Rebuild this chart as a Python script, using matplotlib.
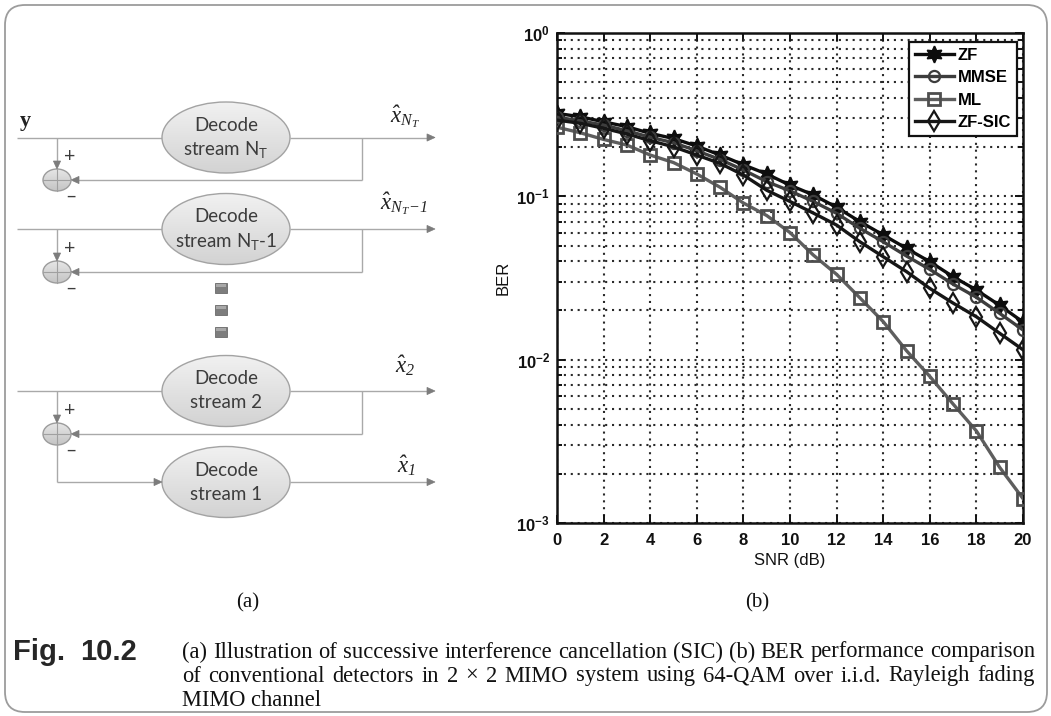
import numpy as np
import matplotlib
matplotlib.use("Agg")
import matplotlib.pyplot as plt
from matplotlib.patches import Ellipse, FancyBboxPatch, Rectangle, Polygon
from matplotlib.ticker import FixedLocator, FixedFormatter, LogLocator, NullFormatter

# ---------------------------------------------------------------- data
snr_db = list(range(0, 21))
ber_zf = [0.322, 0.307, 0.286, 0.267, 0.243, 0.226, 0.203, 0.179, 0.156, 0.137,
          0.117, 0.102, 0.0857, 0.070, 0.058, 0.048, 0.0398, 0.0322, 0.0267,
          0.0215, 0.0170]
ber_mmse = [0.305, 0.290, 0.273, 0.252, 0.230, 0.213, 0.190, 0.168, 0.145, 0.123,
            0.108, 0.093, 0.0787, 0.0637, 0.0527, 0.0431, 0.0357, 0.0290, 0.0241,
            0.0192, 0.0152]
ber_ml = [0.265, 0.245, 0.223, 0.206, 0.179, 0.161, 0.137, 0.1136, 0.0910, 0.0763,
          0.0600, 0.0437, 0.0333, 0.0239, 0.0171, 0.01135, 0.0079, 0.00535,
          0.00366, 0.00219, 0.00141]
ber_zfsic = [0.293, 0.280, 0.261, 0.241, 0.219, 0.201, 0.179, 0.159, 0.135, 0.109,
             0.093, 0.079, 0.0667, 0.0527, 0.0427, 0.0346, 0.0273, 0.0222, 0.0183,
             0.0145, 0.0115]
series_names = ["ZF", "MMSE", "ML", "ZF-SIC"]
x_ticks = list(range(0, 21, 2))
y_ticks = [1e-3, 1e-2, 1e-1, 1e0]
y_tick_labels = [r"$10^{-3}$", r"$10^{-2}$", r"$10^{-1}$", r"$10^{0}$"]

stream_labels = [r"stream N$_\mathregular{T}$", r"stream N$_\mathregular{T}$-1",
                 "stream 2", "stream 1"]
output_labels = [r"$\hat{x}_{N_T}$", r"$\hat{x}_{N_T\!-\!1}$", r"$\hat{x}_{2}$",
                 r"$\hat{x}_{1}$"]

caption_head = ["Fig.", "10.2"]
caption_lines = [
    "(a) Illustration of successive interference cancellation (SIC) (b) BER performance comparison",
    "of conventional detectors in 2 \u00d7 2 MIMO system using 64-QAM over i.i.d. Rayleigh fading",
    "MIMO channel",
]

# ---------------------------------------------------------------- style
plt.rcParams["font.family"] = ["Liberation Sans", "DejaVu Sans"]
plt.rcParams["font.weight"] = "bold"
plt.rcParams["mathtext.default"] = "regular"

W, H = 1051, 716
fig = plt.figure(figsize=(W / 100, H / 100), dpi=100)
fig.patch.set_facecolor("white")

# full-figure canvas in pixel units for the diagram, frame and caption
cv = fig.add_axes([0, 0, 1, 1], zorder=0)
cv.set_xlim(0, W)
cv.set_ylim(H, 0)
cv.axis("off")

LINE = "#a9a9a9"
HEAD = "#7c7c7c"


def head(x, y, direction, size=8, half=3.6):
    dx, dy = {"right": (1, 0), "left": (-1, 0), "down": (0, 1)}[direction]
    px, py = -dy, dx
    pts = [(x, y),
           (x - dx * size + px * half, y - dy * size + py * half),
           (x - dx * size - px * half, y - dy * size - py * half)]
    cv.add_patch(Polygon(pts, closed=True, fc=HEAD, ec=HEAD, lw=0.5, zorder=4))


def seg(xs, ys):
    cv.plot(xs, ys, color=LINE, lw=1.0, solid_capstyle="butt", zorder=2)


def grad_ellipse(cx, cy, w, h, top, bottom, edge):
    e = Ellipse((cx, cy), w, h, fc="none", ec=edge, lw=1.0, zorder=3)
    cv.add_patch(e)
    c0 = np.array(matplotlib.colors.to_rgb(top))
    c1 = np.array(matplotlib.colors.to_rgb(bottom))
    t = np.linspace(0, 1, 64)[:, None, None]
    img = c0 + (c1 - c0) * t
    img = np.repeat(img, 4, axis=1)
    im = cv.imshow(img, extent=(cx - w / 2, cx + w / 2, cy + h / 2, cy - h / 2),
                   origin="upper", aspect="auto", zorder=2.5, interpolation="bilinear")
    im.set_clip_path(e)


# ---------------------------------------------------------------- SIC diagram
row_y = [137.5, 229, 391, 482]
junction_y = [180, 272, 434]
ell_cx, ell_w, ell_h = 226, 128, 71
jx, jw, jh = 57, 28, 22
x_start, x_branch, x_tip = 17, 362, 435

cv.text(25, 121, "y", family="Liberation Serif", weight="bold", fontsize=16,
        ha="center", va="center", color="#222222")

for i, ry in enumerate(row_y):
    grad_ellipse(ell_cx, ry, ell_w, ell_h, "#f1f1f1", "#d3d3d3", "#a3a3a3")
    cv.text(ell_cx, ry - 12, "Decode", family="Lato", weight="normal", fontsize=13.5,
            ha="center", va="center", color="#3c3c3c", zorder=5)
    cv.text(ell_cx, ry + 12, stream_labels[i], family="Lato", weight="normal",
            fontsize=13.5, ha="center", va="center", color="#3c3c3c", zorder=5)
    # output line to the right
    seg([ell_cx + ell_w / 2, x_tip - 7], [ry, ry])
    head(x_tip, ry, "right")
    if i < 3:
        seg([x_start, ell_cx - ell_w / 2], [ry, ry])

output_pos = [(405, 117), (404, 204), (405, 366), (406, 466)]
for (ox, oy), lab in zip(output_pos, output_labels):
    cv.text(ox, oy, lab, family="Liberation Serif", style="italic", weight="normal",
            fontsize=16.5, ha="center", va="center", color="#222222")

for k, jy in enumerate(junction_y):
    ry = row_y[k] if k < 2 else row_y[2]
    # branch down from the input line into the summing node
    seg([jx, jx], [ry, jy - jh / 2 - 7])
    head(jx, jy - jh / 2, "down")
    # feedback of the decoded stream
    seg([x_branch, x_branch], [ry, jy])
    seg([x_branch, jx + jw / 2 + 7], [jy, jy])
    head(jx + jw / 2, jy, "left")
    grad_ellipse(jx, jy, jw, jh, "#e6e6e6", "#c4c4c4", "#9c9c9c")
    cv.plot([jx - jw / 2, jx + jw / 2], [jy, jy], color="#a0a0a0", lw=0.8, zorder=4)
    cv.plot([jx, jx], [jy - jh / 2, jy + jh / 2], color="#a0a0a0", lw=0.8, zorder=4)
    cv.text(70, jy - 23, "+", family="Lato", weight="normal", fontsize=14,
            ha="center", va="center", color="#3c3c3c")
    cv.text(71, jy + 16, "\u2013", family="Lato", weight="normal", fontsize=14,
            ha="center", va="center", color="#3c3c3c")

# last summing node feeds the final decoder
seg([jx, jx], [junction_y[2] + jh / 2, row_y[3]])
seg([jx, ell_cx - ell_w / 2 - 7], [row_y[3], row_y[3]])
head(ell_cx - ell_w / 2, row_y[3], "right")

# vertical ellipsis between the stages
for dy in (288, 310, 332):
    cv.add_patch(Rectangle((215, dy - 5), 12, 10, fc="#7d7d7d", ec="#6a6a6a",
                           lw=0.6, zorder=3))
    cv.add_patch(Rectangle((216, dy - 4.5), 10, 3, fc="#a8a8a8", ec="none", zorder=3.5))

# ---------------------------------------------------------------- BER plot
ax = fig.add_axes([557 / W, 1 - 523 / H, 466 / W, 490 / H], zorder=2)
ax.set_facecolor("white")

styles = [
    dict(color="#0d0d0d", marker=(6, 1, 0), ms=12, mfc="#0d0d0d", mec="#0d0d0d", mew=1.2),
    dict(color="#3d3d3d", marker="o", ms=8, mfc="none", mec="#3d3d3d", mew=1.6),
    dict(color="#5e5e5e", marker="s", ms=8.5, mfc="none", mec="#4e4e4e", mew=2.0),
    dict(color="#161616", marker="d", ms=10, mfc="none", mec="#161616", mew=1.6),
]
for vals, name, st in zip([ber_zf, ber_mmse, ber_ml, ber_zfsic], series_names, styles):
    ax.plot(snr_db, vals, lw=2.4, label=name, zorder=3, **st)

ax.set_yscale("log")
ax.set_xlim(0, 20)
ax.set_ylim(1e-3, 1)
ax.xaxis.set_major_locator(FixedLocator(x_ticks))
ax.yaxis.set_major_locator(FixedLocator(y_ticks))
ax.yaxis.set_major_formatter(FixedFormatter(y_tick_labels))
ax.yaxis.set_minor_locator(LogLocator(base=10, subs=np.arange(2, 10), numticks=20))
ax.yaxis.set_minor_formatter(NullFormatter())

dot = (0, (1, 2.3))
ax.grid(True, which="major", axis="both", linestyle=dot, color="#2a2a2a", lw=1.5)
ax.grid(True, which="minor", axis="y", linestyle=dot, color="#2a2a2a", lw=1.5)
ax.set_axisbelow(True)

ax.tick_params(which="both", direction="in", top=True, right=True, width=1.4,
               labelsize=12, colors="#111111")
ax.tick_params(which="major", length=6)
ax.tick_params(which="minor", length=3.5)
ax.tick_params(axis="x", pad=7)
ax.tick_params(axis="y", pad=5)
for sp in ax.spines.values():
    sp.set_linewidth(1.8)
    sp.set_color("#111111")

ax.set_xlabel("SNR (dB)", fontsize=12, labelpad=4, color="#111111")
ax.set_ylabel("BER", fontsize=12, labelpad=4, color="#111111")

leg = ax.legend(loc="upper right", bbox_to_anchor=(0.987, 0.982), borderaxespad=0,
                fancybox=False, framealpha=1, edgecolor="#111111", fontsize=12,
                handlelength=2.3, handletextpad=0.25, labelspacing=0.45,
                borderpad=0.35)
leg.get_frame().set_linewidth(1.6)

# ---------------------------------------------------------------- frame and caption
cv.add_patch(FancyBboxPatch((5, 5), 1042, 707, boxstyle="round,pad=0,rounding_size=20",
                            fc="none", ec="#9c9c9c", lw=1.3, zorder=1))

cv.text(248, 603, "(a)", family="Liberation Serif", weight="normal", fontsize=15,
        ha="center", va="center", color="#111111")
cv.text(757, 603, "(b)", family="Liberation Serif", weight="normal", fontsize=15,
        ha="center", va="center", color="#111111")

head_kw = dict(family="Liberation Sans", weight="bold", fontsize=21, va="center",
               color="#262626")
cv.text(13, 652, caption_head[0], ha="left", **head_kw)
cv.text(80, 652, caption_head[1], ha="left", **head_kw)

renderer = fig.canvas.get_renderer()


def text_width(s, **kw):
    t = cv.text(0, 0, s, **kw)
    w = t.get_window_extent(renderer).width
    t.remove()
    return w


def justified(words, x0, x1, y, **kw):
    items = [cv.text(0, y, w, ha="left", va="center", **kw) for w in words]
    widths = [t.get_window_extent(renderer).width for t in items]
    gap = (x1 - x0 - sum(widths)) / (len(words) - 1)
    x = x0
    for t, w in zip(items, widths):
        t.set_x(x)
        x += w + gap


cap_x0, cap_x1 = 182, 1035
cap_kw = dict(family="Liberation Serif", weight="normal", fontsize=14.5, color="#111111")
natural = text_width(caption_lines[0], **cap_kw)
cap_kw["fontsize"] = 14.5 * (cap_x1 - cap_x0) / natural * 0.995
line_y = [652, 676, 700]
justified(caption_lines[0].split(" "), cap_x0, cap_x1, line_y[0], **cap_kw)
justified(caption_lines[1].split(" "), cap_x0, cap_x1, line_y[1], **cap_kw)
cv.text(cap_x0, line_y[2], caption_lines[2], ha="left", va="center", **cap_kw)

fig.savefig("out.png", dpi=100, facecolor="white")
